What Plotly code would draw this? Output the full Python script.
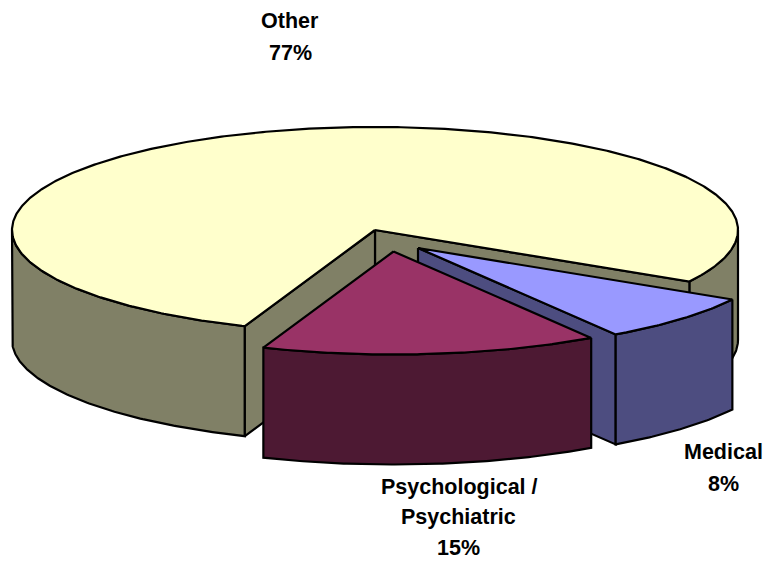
import numpy as np
import plotly.graph_objects as go

categories = ["Medical", "Psychological / Psychiatric", "Other"]
shares = [7.5, 15.0, 77.49]
tick_labels = ["8%", "15%", "77%"]

# style / geometry of the projected pie
W, H = 766, 561
CX, CY, RX, RY, DEPTH = 375, 230, 363, 103, 110
START = 30.0
EXPLODE = {"Medical": (43, 18), "Psychological / Psychiatric": (18.5, 21.5), "Other": (0, 0)}
TOP = {"Medical": "#9999FF", "Psychological / Psychiatric": "#993366", "Other": "#FFFFCC"}
SIDE = {"Medical": "#4D4D80", "Psychological / Psychiatric": "#4D1933", "Other": "#808066"}
LABEL_LINES = {
    "Medical": (["Medical", "8%"], [723, 723], [452, 484]),
    "Psychological / Psychiatric": (["Psychological /", "Psychiatric", "15%"], [459, 458, 458], [487, 517, 548]),
    "Other": (["Other", "77%"], [290, 290], [21, 53]),
}

# sweep angles from the values
ends = START + np.cumsum(shares) / np.sum(shares) * 360
starts = np.concatenate([[START], ends[:-1]])
span = {c: (a, b) for c, a, b in zip(categories, starts, ends)}


def arc(c, a, b):
    dx, dy = EXPLODE[c]
    t = np.radians(np.linspace(a, b, max(2, int(abs(b - a) * 2))))
    return CX + dx + RX * np.cos(t), CY + dy + RY * np.sin(t)


def apex(c):
    dx, dy = EXPLODE[c]
    return CX + dx, CY + dy


fig = go.Figure()


def poly(x, y, color):
    x = np.append(x, x[0])
    y = np.append(y, y[0])
    fig.add_trace(go.Scatter(x=x, y=y, mode="lines", fill="toself", fillcolor=color,
                             line=dict(color="black", width=2.2), hoverinfo="skip", showlegend=False))


def outer(c, a, b):
    x, y = arc(c, a, b)
    poly(np.concatenate([x, x[::-1]]), np.concatenate([y, y[::-1] + DEPTH]), SIDE[c])


def wall(c, ang):
    ax, ay = apex(c)
    x, y = arc(c, ang, ang + 0.001)
    ex, ey = x[0], y[0]
    poly(np.array([ax, ex, ex, ax]), np.array([ay, ey, ey + DEPTH, ay + DEPTH]), SIDE[c])


def top(c):
    a, b = span[c]
    ax, ay = apex(c)
    x, y = arc(c, a, b)
    poly(np.concatenate([[ax], x]), np.concatenate([[ay], y]), TOP[c])


# Other: back slice, drawn first
o_a, o_b = span["Other"]
outer("Other", o_a, 180)
outer("Other", 360, o_b)
wall("Other", o_b)
wall("Other", o_a)
top("Other")

# Medical
m_a, m_b = span["Medical"]
wall("Medical", m_b)
outer("Medical", m_a, m_b)
top("Medical")

# Psychological / Psychiatric
p_a, p_b = span["Psychological / Psychiatric"]
outer("Psychological / Psychiatric", p_a, p_b)
top("Psychological / Psychiatric")

for c in categories:
    for s, lx, ly in zip(*LABEL_LINES[c]):
        fig.add_annotation(x=lx, y=ly, text=s, showarrow=False, xanchor="center", yanchor="middle",
                           font=dict(family="Liberation Sans", size=21.5, color="black", weight="bold"))

fig.update_layout(
    width=W, height=H, margin=dict(l=0, r=0, t=0, b=0),
    paper_bgcolor="white", plot_bgcolor="white",
    xaxis=dict(range=[0, W], visible=False, fixedrange=True),
    yaxis=dict(range=[H, 0], visible=False, fixedrange=True),
    showlegend=False,
)
fig.write_html("out.html", config={"displayModeBar": False},
               post_script="document.body.style.margin='0';document.body.style.overflow='hidden';")
